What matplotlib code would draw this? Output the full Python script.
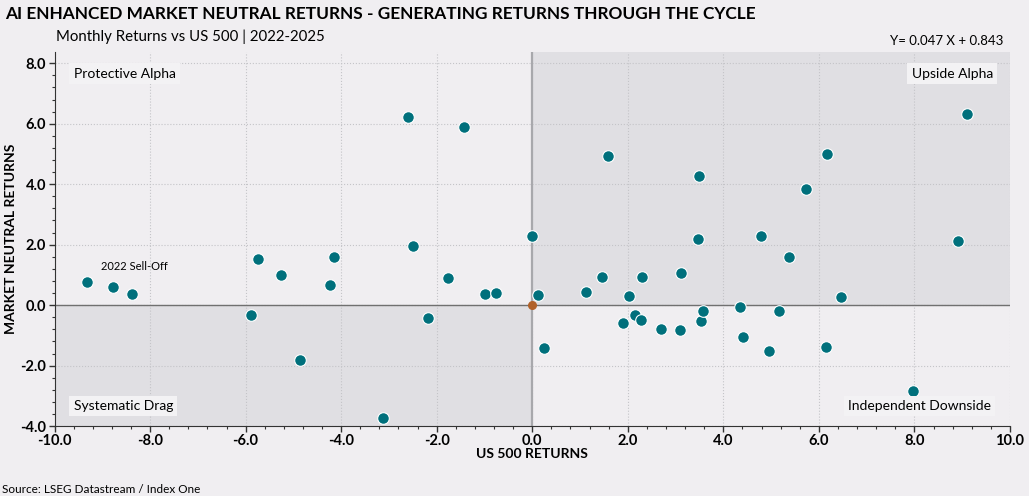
import matplotlib.pyplot as plt
from matplotlib.ticker import MultipleLocator, FormatStrFormatter

# monthly returns (%)
us500 = [-9.32, -8.78, -8.38, -5.89, -5.75, -5.25, -4.86, -4.23, -4.15, -3.12,
         -2.61, -2.49, -2.19, -1.76, -1.42, -0.98, -0.76,
         0.00, 0.13, 0.25, 1.13, 1.46, 1.59, 1.91, 2.02, 2.16, 2.28, 2.29,
         2.70, 3.10, 3.11, 3.47, 3.50, 3.53, 3.58, 4.35, 4.41, 4.79, 4.96,
         5.16, 5.38, 5.72, 6.14, 6.17, 6.47, 7.98, 8.91, 9.10]
mkt_neutral = [0.77, 0.61, 0.36, -0.32, 1.54, 0.99, -1.82, 0.66, 1.58, -3.73,
               6.21, 1.94, -0.43, 0.89, 5.88, 0.36, 0.40,
               2.29, 0.32, -1.41, 0.45, 0.94, 4.94, -0.58, 0.30, -0.33, -0.48, 0.93,
               -0.78, -0.81, 1.06, 2.19, 4.28, -0.52, -0.18, -0.06, -1.06, 2.29, -1.52,
               -0.19, 1.58, 3.85, -1.39, 5.01, 0.28, -2.83, 2.12, 6.31]

quadrant_labels = ["Protective Alpha", "Upside Alpha", "Systematic Drag", "Independent Downside"]
equation = "Y= 0.047 X + 0.843"

bg = "#f0eef1"
shade = "#e0dfe3"
teal = "#00707c"

plt.rcParams['font.family'] = ['Lato', 'DejaVu Sans']

fig = plt.figure(figsize=(10.29, 4.96), dpi=100, facecolor=bg)
ax = fig.add_axes([0.053, 0.141, 0.9285, 0.754])
ax.set_facecolor(bg)
ax.set_xlim(-10, 10)
ax.set_ylim(-4, 8.37)

# shaded quadrants
ax.axvspan(0, 10, ymin=4 / 12.37, ymax=1, color=shade, lw=0, zorder=0)
ax.axvspan(-10, 0, ymin=0, ymax=4 / 12.37, color=shade, lw=0, zorder=0)

ax.grid(True, which='major', linestyle=':', color='#c4c4c8', lw=0.8, zorder=1)
ax.axvline(0, color='#a8a8ac', lw=1.6, zorder=2)
ax.axhline(0, color='#707070', lw=1.0, zorder=2)

ax.scatter(us500, mkt_neutral, s=70, color=teal, edgecolor='white', linewidth=0.8, zorder=4)
ax.scatter([0], [0], s=30, color='#b0622a', zorder=5)

ax.xaxis.set_major_locator(MultipleLocator(2))
ax.xaxis.set_minor_locator(MultipleLocator(0.4))
ax.yaxis.set_major_locator(MultipleLocator(2))
ax.yaxis.set_minor_locator(MultipleLocator(0.4))
ax.xaxis.set_major_formatter(FormatStrFormatter('%.1f'))
ax.yaxis.set_major_formatter(FormatStrFormatter('%.1f'))
ax.tick_params(which='major', length=4, width=1, color='#333333', labelsize=10.5, pad=2)
ax.tick_params(which='minor', length=2, width=0.8, color='#333333')
for lab in ax.get_xticklabels() + ax.get_yticklabels():
    lab.set_fontweight('bold')

for side in ['top', 'right']:
    ax.spines[side].set_visible(False)
for side in ['left', 'bottom']:
    ax.spines[side].set_color('#333333')

ax.set_xlabel("US 500 RETURNS", fontsize=10, fontweight='bold', labelpad=0)
ax.set_ylabel("MARKET NEUTRAL RETURNS", fontsize=10, fontweight='bold', labelpad=2)

box = dict(boxstyle='square,pad=0.3', facecolor='#f3f2f4', edgecolor='none')
ax.text(-9.6, 7.66, quadrant_labels[0], fontsize=10, ha='left', va='center', bbox=box, zorder=6)
ax.text(9.64, 7.66, quadrant_labels[1], fontsize=10, ha='right', va='center', bbox=box, zorder=6)
ax.text(-9.6, -3.33, quadrant_labels[2], fontsize=10, ha='left', va='center', bbox=box, zorder=6)
ax.text(9.6, -3.33, quadrant_labels[3], fontsize=10, ha='right', va='center', bbox=box, zorder=6)
ax.text(-9.03, 1.27, "2022 Sell-Off", fontsize=8, ha='left', va='center', zorder=6)

fig.text(0.005, 0.972, "AI ENHANCED MARKET NEUTRAL RETURNS - GENERATING RETURNS THROUGH THE CYCLE",
         fontsize=12.4, fontweight='bold', ha='left', va='center')
fig.text(0.054, 0.925, "Monthly Returns vs US 500 | 2022-2025", fontsize=10.8, ha='left', va='center')
fig.text(0.975, 0.918, equation, fontsize=9.5, ha='right', va='center')
fig.text(0.002, 0.003, "Source: LSEG Datastream / Index One", fontsize=8.5, ha='left', va='bottom')

fig.savefig("out.png", dpi=100, facecolor=bg)
